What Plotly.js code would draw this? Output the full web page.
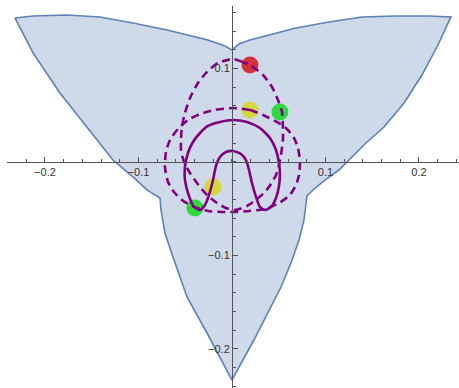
<!DOCTYPE html>
<html>
<head>
<meta charset="utf-8">
<script src="https://cdn.plot.ly/plotly-3.0.1.min.js"></script>
<style>
  html, body { margin: 0; padding: 0; background: #fff; }
  #plot { width: 459px; height: 388px; }
</style>
</head>
<body>
<div id="plot"></div>
<script>
// Admissible region (three-cusped domain), traced clockwise from the upper-left cusp
const regionX = [-0.2321, -0.2128, -0.1765, -0.1412, -0.1059, -0.0695, -0.0257, -0.0075, 0.0000,
  0.0075, 0.0193, 0.0321, 0.0684, 0.1037, 0.1390, 0.1754, 0.2107, 0.2342,
  0.2203, 0.2032, 0.1840, 0.1626, 0.1433, 0.1283, 0.1144, 0.0984, 0.0877, 0.0802,
  0.0770, 0.0717, 0.0631, 0.0524, 0.0396, 0.0235, 0.0075, 0.0000,
  -0.0267, -0.0481, -0.0631, -0.0717, -0.0759, -0.0770, -0.0909,
  -0.1059, -0.1273, -0.1551, -0.1840, -0.2128, -0.2321];
const regionY = [0.1540, 0.1561, 0.1572, 0.1551, 0.1487, 0.1412, 0.1305, 0.1241, 0.1198,
  0.1262, 0.1305, 0.1337, 0.1433, 0.1497, 0.1551, 0.1561, 0.1561, 0.1551,
  0.1251, 0.0930, 0.0631, 0.0374, 0.0203, 0.0053, -0.0086, -0.0203, -0.0289, -0.0364,
  -0.0620, -0.0834, -0.1080, -0.1337, -0.1583, -0.1904, -0.2193, -0.2332,
  -0.1829, -0.1444, -0.1016, -0.0759, -0.0513, -0.0385, -0.0299,
  -0.0160, 0.0021, 0.0374, 0.0738, 0.1166, 0.1540];

// Dashed curve: tall oval
const tallX = [0.0011, 0.0086, 0.0193, 0.0332, 0.0428, 0.0492, 0.0535, 0.0545, 0.0545, 0.0524,
  0.0503, 0.0471, 0.0417, 0.0353, 0.0267, 0.0160, 0.0032, -0.0064, -0.0160, -0.0267,
  -0.0374, -0.0449, -0.0513, -0.0545, -0.0545, -0.0535, -0.0503, -0.0449, -0.0364,
  -0.0267, -0.0150, 0.0011];
const tallY = [0.1102, 0.1080, 0.1037, 0.0930, 0.0802, 0.0663, 0.0535, 0.0374, 0.0235, 0.0075,
  -0.0032, -0.0139, -0.0235, -0.0321, -0.0396, -0.0471, -0.0513, -0.0492, -0.0439, -0.0353,
  -0.0225, -0.0118, 0.0000, 0.0128, 0.0257, 0.0374, 0.0524, 0.0684, 0.0845,
  0.0963, 0.1059, 0.1102];

// Dashed curve: wide oval
const wideX = [0.0011, 0.0193, 0.0332, 0.0481, 0.0588, 0.0663, 0.0706, 0.0727, 0.0717, 0.0684,
  0.0620, 0.0503, 0.0353, 0.0182, 0.0011, -0.0107, -0.0257, -0.0428, -0.0535, -0.0620,
  -0.0684, -0.0717, -0.0706, -0.0663, -0.0578, -0.0471, -0.0342, -0.0182, 0.0011];
const wideY = [0.0578, 0.0556, 0.0503, 0.0428, 0.0353, 0.0257, 0.0150, 0.0000, -0.0139, -0.0246,
  -0.0353, -0.0439, -0.0503, -0.0524, -0.0535, -0.0535, -0.0524, -0.0471, -0.0406, -0.0321,
  -0.0214, -0.0053, 0.0107, 0.0235, 0.0353, 0.0449, 0.0513, 0.0556, 0.0578];

// Solid curve: outer arch joined to the inner arch through two bottom loops
const solidX = [0.0011, 0.0160, 0.0299, 0.0406, 0.0471, 0.0503, 0.0513, 0.0503, 0.0471, 0.0417,
  0.0353, 0.0299, 0.0257, 0.0214, 0.0182, 0.0150, 0.0096, 0.0011, -0.0064, -0.0128,
  -0.0171, -0.0203, -0.0246, -0.0289, -0.0342, -0.0406, -0.0460, -0.0503, -0.0503,
  -0.0471, -0.0417, -0.0342, -0.0257, -0.0128, 0.0011];
const solidY = [0.0449, 0.0428, 0.0364, 0.0257, 0.0128, -0.0011, -0.0139, -0.0257, -0.0385, -0.0481,
  -0.0513, -0.0481, -0.0374, -0.0225, -0.0086, 0.0021, 0.0086, 0.0118, 0.0107, 0.0053,
  -0.0043, -0.0193, -0.0353, -0.0460, -0.0513, -0.0481, -0.0364, -0.0193, -0.0053,
  0.0096, 0.0214, 0.0310, 0.0385, 0.0428, 0.0449];

// Marked points
const dotX = [0.0193, 0.0193, 0.0513, -0.0203, -0.0396];
const dotY = [0.1037, 0.0556, 0.0535, -0.0267, -0.0492];
const dotColors = ['#d4313b', '#d5d83d', '#2fd840', '#d5d83d', '#2fd840'];

// Axis ticks
const xTicks = [-0.2, -0.1, 0.1, 0.2];
const yTicks = [-0.2, -0.1, 0.1];

const xRange = [-0.2406, 0.2428];
const yRange = [-0.2417, 0.1668];

const purple = 'rgb(128,0,128)';
const axisColor = '#555';

const traces = [
  {
    x: regionX, y: regionY, type: 'scatter', mode: 'lines',
    fill: 'toself', fillcolor: 'rgba(94,129,181,0.3)',
    line: { color: 'rgb(94,129,181)', width: 1.6 }
  },
  {
    x: dotX, y: dotY, type: 'scatter', mode: 'markers',
    marker: { size: 17, color: dotColors, line: { width: 0 } }
  },
  {
    x: tallX, y: tallY, type: 'scatter', mode: 'lines',
    line: { color: purple, width: 2.6, dash: '8px,5px', shape: 'spline', smoothing: 0.6 }
  },
  {
    x: wideX, y: wideY, type: 'scatter', mode: 'lines',
    line: { color: purple, width: 2.6, dash: '8px,5px', shape: 'spline', smoothing: 0.6 }
  },
  {
    x: solidX, y: solidY, type: 'scatter', mode: 'lines',
    line: { color: purple, width: 2.6, shape: 'spline', smoothing: 0.6 }
  }
];

const tickFont = { family: 'Liberation Sans, Arial, sans-serif', size: 11, color: '#333' };

const layout = {
  width: 459, height: 388,
  margin: { l: 7, r: 0, t: 6, b: 0, pad: 0 },
  paper_bgcolor: '#fff', plot_bgcolor: '#fff',
  showlegend: false, hovermode: false,
  xaxis: {
    range: xRange, anchor: 'free',
    position: (0 - yRange[0]) / (yRange[1] - yRange[0]),
    showgrid: false, zeroline: false,
    showline: true, linecolor: axisColor, linewidth: 1,
    tickmode: 'array', tickvals: xTicks,
    ticks: 'inside', ticklen: 5, tickwidth: 1, tickcolor: axisColor,
    tickfont: tickFont, automargin: false,
    minor: { ticks: 'inside', ticklen: 3, tickwidth: 1, tickcolor: axisColor, dtick: 0.02, tick0: 0, showgrid: false }
  },
  yaxis: {
    range: yRange, anchor: 'free',
    position: (0 - xRange[0]) / (xRange[1] - xRange[0]),
    scaleanchor: 'x', scaleratio: 1,
    showgrid: false, zeroline: false,
    showline: true, linecolor: axisColor, linewidth: 1,
    tickmode: 'array', tickvals: yTicks,
    ticks: 'inside', ticklen: 5, tickwidth: 1, tickcolor: axisColor,
    tickfont: tickFont, automargin: false,
    minor: { ticks: 'inside', ticklen: 3, tickwidth: 1, tickcolor: axisColor, dtick: 0.02, tick0: 0, showgrid: false }
  }
};

Plotly.newPlot('plot', traces, layout, { displayModeBar: false, staticPlot: true });
</script>
</body>
</html>
